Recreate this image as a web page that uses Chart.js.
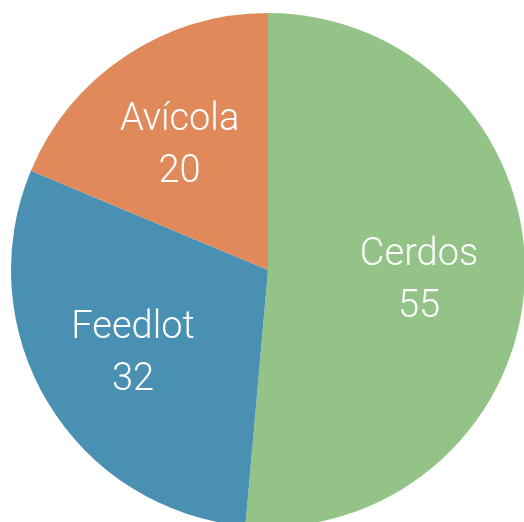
<!DOCTYPE html>
<html>
<head>
<meta charset="utf-8">
<script src="https://cdn.jsdelivr.net/npm/chart.js@4/dist/chart.umd.min.js"></script>
<style>
  html, body { margin: 0; padding: 0; background: #ffffff; overflow: hidden; width: 524px; height: 522px; }
  #caja { position: absolute; left: 11px; top: 13px; width: 514px; height: 514px; }
</style>
</head>
<body>
<div id="caja"><canvas id="grafica-pastel"></canvas></div>
<script>
var categorias = ['Cerdos', 'Feedlot', 'Avícola'];
var valores = [55, 32, 20];
var colores = ['#93C387', '#4A90B2', '#E08A5C'];

// etiquetas blancas dentro de cada porción
var etiquetasPlugin = {
  id: 'etiquetas',
  afterDatasetsDraw: function(chart) {
    var ctx = chart.ctx;
    var meta = chart.getDatasetMeta(0);
    ctx.save();
    ctx.fillStyle = '#ffffff';
    ctx.textAlign = 'center';
    ctx.textBaseline = 'middle';
    ctx.font = '300 38px Roboto';
    meta.data.forEach(function(arco, i) {
      var medio = (arco.startAngle + arco.endAngle) / 2;
      var d = arco.outerRadius * 0.6;
      var x = arco.x + Math.cos(medio) * d - 3;
      var y = arco.y + Math.sin(medio) * d + 5;
      ctx.fillText(categorias[i], x, y - 26);
      ctx.fillText(String(valores[i]), x, y + 26);
    });
    ctx.restore();
  }
};

var ctx = document.getElementById('grafica-pastel').getContext('2d');
var chart = new Chart(ctx, {
  type: 'pie',
  data: {
    labels: categorias,
    datasets: [{
      data: valores,
      backgroundColor: colores,
      borderWidth: 0
    }]
  },
  options: {
    responsive: true,
    maintainAspectRatio: false,
    animation: false,
    layout: { padding: 0 },
    plugins: {
      legend: { display: false },
      tooltip: { enabled: false }
    }
  },
  plugins: [etiquetasPlugin]
});
</script>
</body>
</html>
